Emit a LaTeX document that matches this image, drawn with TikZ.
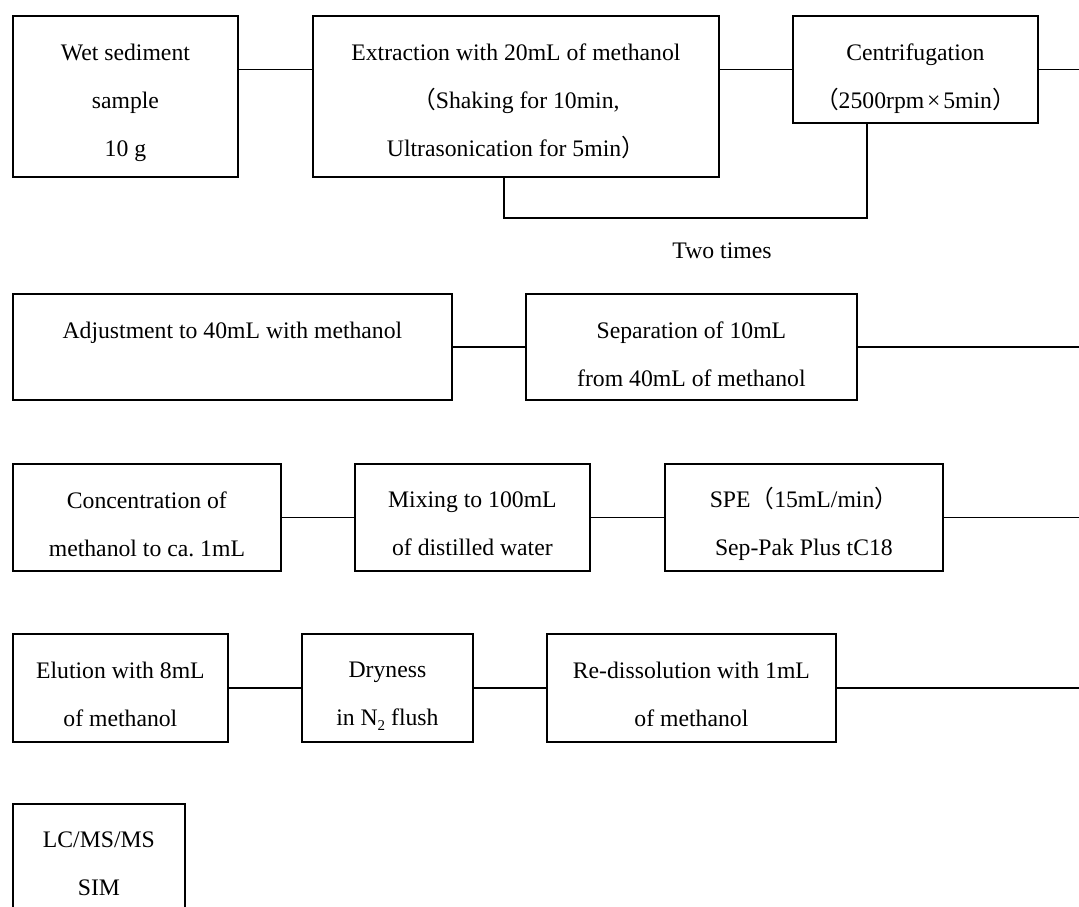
\documentclass[tikz,border=0pt]{standalone}
\usepackage{fontspec}
\setmainfont{Liberation Serif}
\newfontfamily\cjk{Noto Sans CJK JP}
\newcommand\lpar{\smash{{\cjk （}}}
\newcommand\rpar{\smash{{\cjk ）}}}
\newcommand\subtwo{\raisebox{-0.22em}{\fontsize{15}{15}\selectfont 2}}
\begin{document}
\begin{tikzpicture}[x=1pt,y=-1pt,
  box/.style={draw, line width=1.8pt, inner sep=0pt, anchor=north west},
  txt/.style={inner sep=0pt, align=center, anchor=north, font=\fontsize{23.7}{48}\selectfont},
  link/.style={line width=1.4pt},
  loopback/.style={line width=1.8pt}]
\useasboundingbox (0,0) rectangle (1079,907);
\clip (0,0) rectangle (1079,907);
\coordinate (edge) at (1079,0);

% row 1
\node[box, minimum width=225, minimum height=161] (b1) at (12,15) {};
\node[box, minimum width=406, minimum height=161] (b2) at (312,15) {};
\node[box, minimum width=245, minimum height=107] (b3) at (792,15) {};
\node[txt] (t1) at ([yshift=-29pt]b1.north) {Wet sediment\\sample\\10 g};
\node[txt] (t2) at ([yshift=-29pt]b2.north) {Extraction with 20mL of methanol\\\lpar Shaking for 10min,\\Ultrasonication for 5min\rpar};
\node[txt] (t3) at ([yshift=-29pt]b3.north) {Centrifugation\\\lpar 2500rpm\hspace{0.12em}×\hspace{0.12em}5min\rpar};
\draw[link] (b1.east |- b3.west) -- (b2.west |- b3.west);
\draw[link] (b2.east |- b3.west) -- (b3.west);
\draw[link] (b3.east) -- (b3.east -| edge);
\coordinate (fbL) at (504,218);
\coordinate (fbR) at (867,218);
\draw[loopback] (b2.south -| fbL) -- (fbL) -- (fbR) -- (b3.south -| fbR);
\node[txt, anchor=base] (two) at (722,258) {Two times};

% row 2
\node[box, minimum width=439, minimum height=106] (b4) at (12,293) {};
\node[box, minimum width=331, minimum height=106] (b5) at (525,293) {};
\node[txt] (t4) at ([yshift=-29pt]b4.north) {Adjustment to 40mL with methanol};
\node[txt] (t5) at ([yshift=-29pt]b5.north) {Separation of 10mL\\from 40mL of methanol};
\draw[link] (b4.east) -- (b5.west);
\draw[link] (b5.east) -- (b5.east -| edge);

% row 3
\node[box, minimum width=268, minimum height=107] (b6) at (12,463) {};
\node[box, minimum width=235, minimum height=107] (b7) at (354,463) {};
\node[box, minimum width=278, minimum height=107] (b8) at (664,463) {};
\node[txt] (t6) at ([yshift=-29pt]b6.north) {Concentration of\\methanol to ca.\ 1mL};
\node[txt] (t7) at ([yshift=-29pt]b7.north) {Mixing to 100mL\\of distilled water};
\node[txt] (t8) at ([yshift=-29pt]b8.north) {SPE\lpar 15mL/min\rpar\\Sep-Pak Plus tC18};
\draw[link] (b6.east) -- (b7.west);
\draw[link] (b7.east) -- (b8.west);
\draw[link] (b8.east) -- (b8.east -| edge);

% row 4
\node[box, minimum width=215, minimum height=108] (b9) at (12,633) {};
\node[box, minimum width=171, minimum height=108] (b10) at (301,633) {};
\node[box, minimum width=289, minimum height=108] (b11) at (546,633) {};
\node[txt] (t9) at ([yshift=-29pt]b9.north) {Elution with 8mL\\of methanol};
\node[txt] (t10) at ([yshift=-29pt]b10.north) {Dryness\\in N\subtwo{} flush};
\node[txt] (t11) at ([yshift=-29pt]b11.north) {Re-dissolution with 1mL\\of methanol};
\draw[link] (b9.east) -- (b10.west);
\draw[link] (b10.east) -- (b11.west);
\draw[link] (b11.east) -- (b11.east -| edge);

% row 5
\node[box, minimum width=172, minimum height=130] (b12) at (12,803) {};
\node[txt] (t12) at ([yshift=-29pt]b12.north) {LC/MS/MS\\SIM};
\end{tikzpicture}
\end{document}
